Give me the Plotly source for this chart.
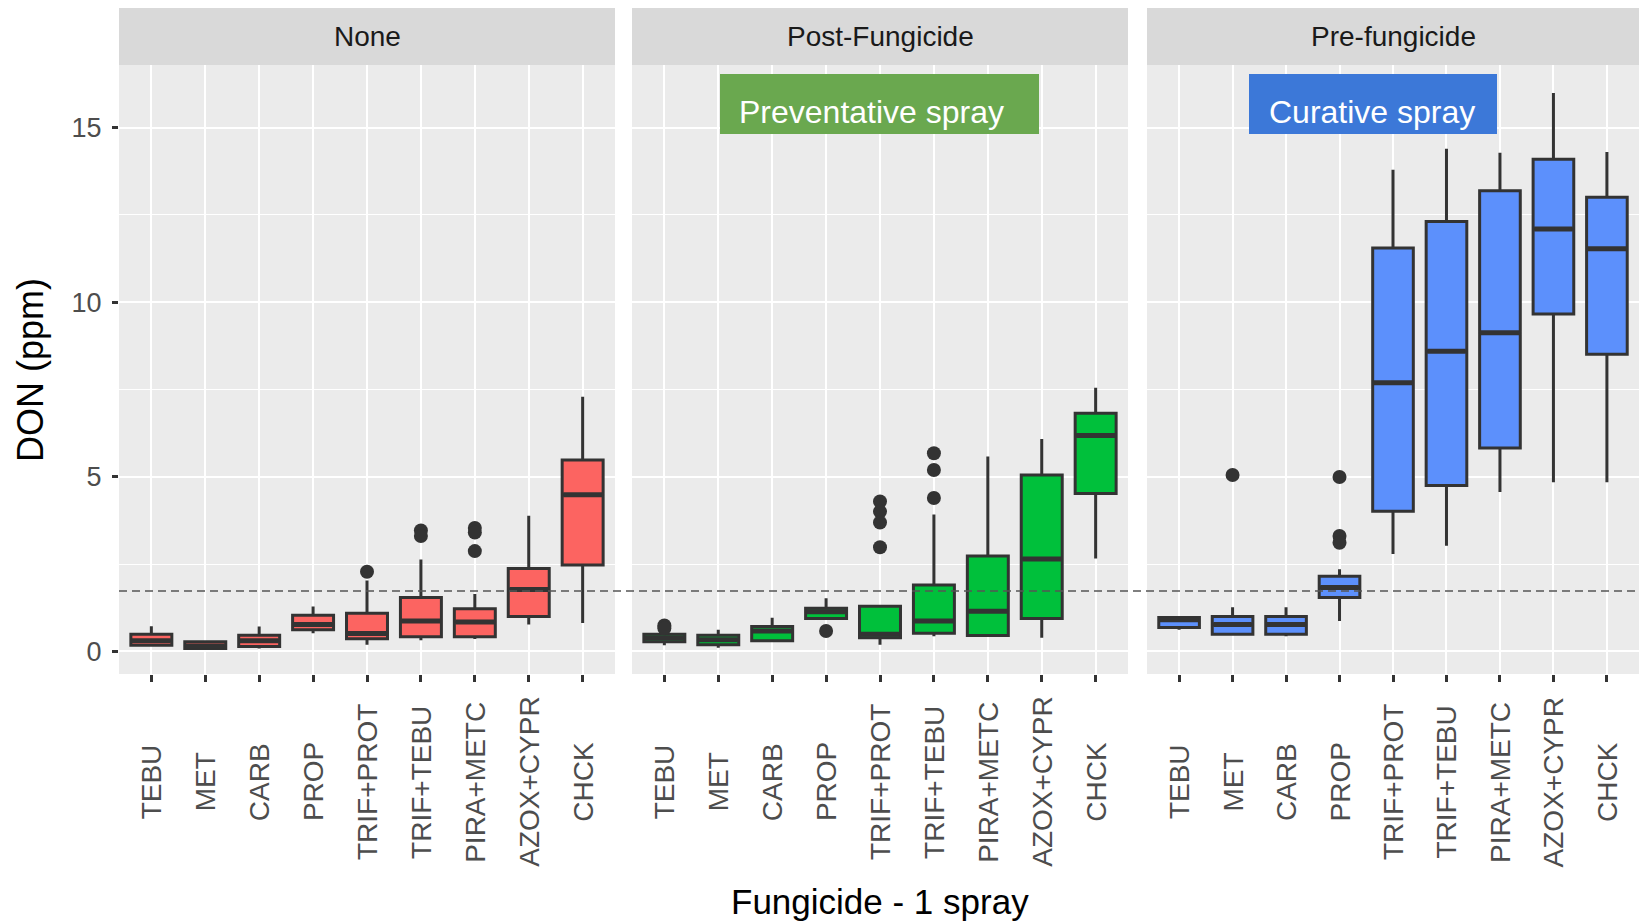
import plotly.graph_objects as go
from plotly.subplots import make_subplots

categories = ["TEBU", "MET", "CARB", "PROP", "TRIF+PROT", "TRIF+TEBU", "PIRA+METC", "AZOX+CYPR", "CHCK"]
panel_names = ["None", "Post-Fungicide", "Pre-fungicide"]
panel_colors = ["#FC6461", "#00C03B", "#5C90FC"]

# None (no fungicide timing)
none_lo = [0.15, 0.05, 0.08, 0.52, 0.19, 0.32, 0.35, 0.77, 0.81]
none_q1 = [0.17, 0.08, 0.14, 0.62, 0.36, 0.42, 0.42, 1.00, 2.47]
none_med = [0.30, 0.15, 0.30, 0.77, 0.51, 0.87, 0.84, 1.77, 4.48]
none_q3 = [0.49, 0.27, 0.46, 1.03, 1.09, 1.54, 1.22, 2.37, 5.48]
none_hi = [0.72, 0.30, 0.71, 1.28, 2.03, 2.63, 1.64, 3.88, 7.29]
none_out_x = ["TRIF+PROT", "TRIF+TEBU", "TRIF+TEBU", "PIRA+METC", "PIRA+METC", "PIRA+METC"]
none_out_y = [2.28, 3.46, 3.30, 3.53, 3.40, 2.87]

# Post-Fungicide
post_lo = [0.17, 0.10, 0.30, 0.90, 0.19, 0.43, 0.45, 0.39, 2.66]
post_q1 = [0.27, 0.19, 0.30, 0.94, 0.39, 0.52, 0.45, 0.94, 4.52]
post_med = [0.38, 0.33, 0.58, 1.13, 0.49, 0.87, 1.15, 2.64, 6.18]
post_q3 = [0.49, 0.46, 0.71, 1.23, 1.29, 1.90, 2.73, 5.05, 6.82]
post_hi = [0.49, 0.62, 0.96, 1.52, 1.29, 3.92, 5.58, 6.08, 7.55]
post_out_x = ["TEBU", "TEBU", "PROP", "TRIF+PROT", "TRIF+PROT", "TRIF+PROT", "TRIF+PROT",
              "TRIF+TEBU", "TRIF+TEBU", "TRIF+TEBU"]
post_out_y = [0.74, 0.66, 0.58, 4.29, 4.00, 3.69, 2.98, 5.67, 5.19, 4.39]

# Pre-fungicide
pre_lo = [0.62, 0.49, 0.43, 0.87, 2.79, 3.02, 4.56, 4.84, 4.84]
pre_q1 = [0.68, 0.49, 0.49, 1.54, 4.01, 4.75, 5.82, 9.66, 8.51]
pre_med = [0.90, 0.77, 0.77, 1.83, 7.69, 8.59, 9.12, 12.09, 11.53]
pre_q3 = [0.97, 1.00, 1.00, 2.15, 11.55, 12.31, 13.19, 14.09, 13.00]
pre_hi = [1.00, 1.26, 1.26, 2.35, 13.79, 14.39, 14.28, 15.99, 14.30]
pre_out_x = ["MET", "PROP", "PROP", "PROP"]
pre_out_y = [5.05, 4.99, 3.30, 3.11]

threshold = 1.73
y_ticks = [0, 5, 10, 15]
box_labels = ["Preventative spray", "Curative spray"]

panels = [
    (none_lo, none_q1, none_med, none_q3, none_hi, none_out_x, none_out_y),
    (post_lo, post_q1, post_med, post_q3, post_hi, post_out_x, post_out_y),
    (pre_lo, pre_q1, pre_med, pre_q3, pre_hi, pre_out_x, pre_out_y),
]

W, H = 1639, 922
ML, MR, MT, MB = 119, 0, 65, 248
PW = W - ML - MR
PH = H - MT - MB

def px_x(p):
    return (p - ML) / PW

def px_y(p):
    return (H - MB - p) / PH

domains = [[0, px_x(615)], [px_x(632), px_x(1128)], [px_x(1147), 1.0]]

fig = make_subplots(rows=1, cols=3, shared_yaxes=True)
DARK = "#333333"
FONT = "Liberation Sans, Arial, sans-serif"
bw = 0.76
idx = list(range(len(categories)))

for k, (lo, q1, med, q3, hi, ox, oy) in enumerate(panels):
    col = k + 1
    fig.add_trace(go.Box(
        x=idx, q1=q1, median=med, q3=q3, lowerfence=lo, upperfence=hi,
        width=bw, whiskerwidth=0, fillcolor=panel_colors[k],
        line=dict(color=DARK, width=3), boxpoints=False,
        showlegend=False, hoverinfo="skip"), row=1, col=col)
    mx, my = [], []
    for i, m in zip(idx, med):
        mx += [i - bw / 2 + 0.02, i + bw / 2 - 0.02, None]
        my += [m, m, None]
    fig.add_trace(go.Scatter(x=mx, y=my, mode="lines",
                             line=dict(color=DARK, width=5),
                             showlegend=False, hoverinfo="skip"), row=1, col=col)
    fig.add_trace(go.Scatter(x=[categories.index(c) for c in ox], y=oy, mode="markers",
                             marker=dict(color=DARK, size=14),
                             showlegend=False, hoverinfo="skip"), row=1, col=col)

ann = []
shapes = []
for k in range(3):
    xa = "xaxis" if k == 0 else f"xaxis{k+1}"
    ya = "yaxis" if k == 0 else f"yaxis{k+1}"
    xr = "x" if k == 0 else f"x{k+1}"
    fig.layout[xa].update(
        domain=domains[k], range=[-0.6, len(categories) - 0.4],
        tickvals=idx, ticktext=[""] * len(categories), showticklabels=False,
        ticks="outside", ticklen=7, tickwidth=2.5, tickcolor=DARK,
        showgrid=True, gridcolor="white", gridwidth=2.2, zeroline=False, showline=False)
    fig.layout[ya].update(
        range=[-0.65, 16.79], tickvals=y_ticks,
        showgrid=True, gridcolor="white", gridwidth=2.2, zeroline=False, showline=False,
        minor=dict(dtick=2.5, tick0=0, showgrid=True, gridcolor="white", gridwidth=1.1),
        ticks="outside" if k == 0 else "", ticklen=6, tickwidth=2.5, tickcolor=DARK,
        showticklabels=(k == 0), ticklabelstandoff=5,
        tickfont=dict(family=FONT, size=27, color="#4D4D4D"))
    # strip
    shapes.append(dict(type="rect", xref="paper", yref="paper",
                       x0=domains[k][0], x1=domains[k][1], y0=1.0, y1=px_y(8),
                       fillcolor="#D9D9D9", line=dict(width=0), layer="below"))
    ann.append(dict(text=panel_names[k], xref="paper", yref="paper",
                    x=(domains[k][0] + domains[k][1]) / 2, y=px_y(36.5),
                    xanchor="center", yanchor="middle", showarrow=False,
                    font=dict(family=FONT, size=28, color="#1A1A1A")))
    for i, c in enumerate(categories):
        ann.append(dict(text=c, xref=xr, yref="paper", x=i, y=px_y(782),
                        xanchor="center", yanchor="middle", textangle=-90,
                        showarrow=False, font=dict(family=FONT, size=28, color="#4D4D4D")))

# dashed threshold line
shapes.append(dict(type="line", xref="paper", yref="y", x0=0, x1=1,
                   y0=threshold, y1=threshold,
                   line=dict(color="#555555", width=1.5, dash="8px,5px"), layer="above"))
# spray annotation boxes
shapes.append(dict(type="rect", xref="paper", yref="paper",
                   x0=px_x(720), x1=px_x(1039), y0=px_y(134), y1=px_y(74),
                   fillcolor="#6AA84F", line=dict(width=0), layer="above"))
shapes.append(dict(type="rect", xref="paper", yref="paper",
                   x0=px_x(1249), x1=px_x(1497), y0=px_y(134), y1=px_y(74),
                   fillcolor="#3C78D8", line=dict(width=0), layer="above"))
ann.append(dict(text=box_labels[0], xref="paper", yref="paper", x=px_x(737), y=px_y(112),
                xanchor="left", yanchor="middle", showarrow=False,
                font=dict(family=FONT, size=32, color="white")))
ann.append(dict(text=box_labels[1], xref="paper", yref="paper", x=px_x(1267), y=px_y(112),
                xanchor="left", yanchor="middle", showarrow=False,
                font=dict(family=FONT, size=32, color="white")))
# axis titles
ann.append(dict(text="Fungicide - 1 spray", xref="paper", yref="paper", x=px_x(880), y=px_y(901),
                xanchor="center", yanchor="middle", showarrow=False,
                font=dict(family=FONT, size=35, color="#000000")))
ann.append(dict(text="DON (ppm)", xref="paper", yref="paper", x=px_x(31), y=px_y(370),
                xanchor="center", yanchor="middle", textangle=-90, showarrow=False,
                font=dict(family=FONT, size=36, color="#000000")))

fig.update_layout(
    width=W, height=H, margin=dict(l=ML, r=MR, t=MT, b=MB),
    paper_bgcolor="white", plot_bgcolor="#EBEBEB",
    annotations=ann, shapes=shapes, showlegend=False,
    font=dict(family=FONT))

fig.write_html("out.html")
